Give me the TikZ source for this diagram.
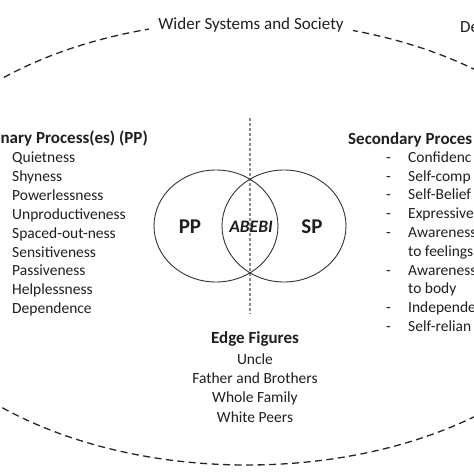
\documentclass[tikz,border=0pt]{standalone}
\usepackage{fontspec}
\setmainfont{Carlito}
\usetikzlibrary{shapes.geometric}
\begin{document}
\begin{tikzpicture}[x=1pt,y=-1pt,
  txt/.style={inner sep=0pt, text=black!88},
  body/.style={txt, font=\fontsize{15.5}{19}\selectfont},
  head/.style={txt, font=\fontsize{17}{20}\selectfont\bfseries},
  titletext/.style={txt, font=\fontsize{17}{20}\selectfont},
  outerline/.style={draw=black!85, line width=1.3pt, dash pattern=on 7pt off 4.5pt},
  vennline/.style={draw=black!80, line width=0.9pt},
  divider/.style={draw=black!45, line width=1.8pt, dash pattern=on 3pt off 2pt},
  venntext/.style={txt, font=\fontsize{21}{24}\selectfont\bfseries}]
\useasboundingbox (0,0) rectangle (474,474);
\clip (0,0) rectangle (474,474);
% outer dashed boundary
\draw[outerline] (247,243) ellipse [x radius=365pt, y radius=222pt];
\node[titletext, fill=white, inner xsep=9pt, inner ysep=3pt] (wider) at (251,25) {Wider Systems and Society};
\node[titletext, anchor=mid west] (de) at (460,30) {De};
% divider
\coordinate (dtop) at (250,118);
\coordinate (dbot) at (250,314);
\draw[divider] (dtop) -- (dbot);
% venn
\node[vennline, ellipse, minimum width=124pt, minimum height=112pt, inner sep=0pt] (pp) at (216,226) {};
\node[vennline, ellipse, minimum width=124pt, minimum height=112pt, inner sep=0pt] (sp) at (284,226) {};
\node[venntext] (pplab) at (190,227) {PP};
\node[venntext] (splab) at (312,227) {SP};
\node[txt, font=\fontsize{17.5}{20}\selectfont\bfseries\itshape] (abebi) at (251,227) {ABEBI};
% left list
\node[head, anchor=mid east] (lhead) at (148,141) {nary Process(es) (PP)};
\foreach \t [count=\i from 0] in {Quietness,Shyness,Powerlessness,Unproductiveness,Spaced-out-ness,Sensitiveness,Passiveness,Helplessness,Dependence}
  \node[body, anchor=mid west] (l\i) at (12,160.5+18.85*\i) {\t};
% right list
\node[head, anchor=mid west] (rhead) at (348,142) {Secondary Proces};
\foreach \t/\d [count=\i from 0] in {Confidenc/1,Self-comp/1,Self-Belief/1,Expressive/1,Awareness/1,to feelings/0,Awareness/1,to body/0,Independe/1,Self-relian/1}{
  \node[body, anchor=mid west] (r\i) at (408,160+18.8*\i) {\t};
  \ifnum\d=1 \node[body, anchor=mid west] (rd\i) at (386,160+18.8*\i) {-};\fi
}
% edge figures
\node[head] (ehead) at (255,339) {Edge Figures};
\node[body] (e1) at (255,359) {Uncle};
\node[body] (e2) at (255,378.5) {Father and Brothers};
\node[body] (e3) at (255,398) {Whole Family};
\node[body] (e4) at (255,417) {White Peers};
\end{tikzpicture}
\end{document}
